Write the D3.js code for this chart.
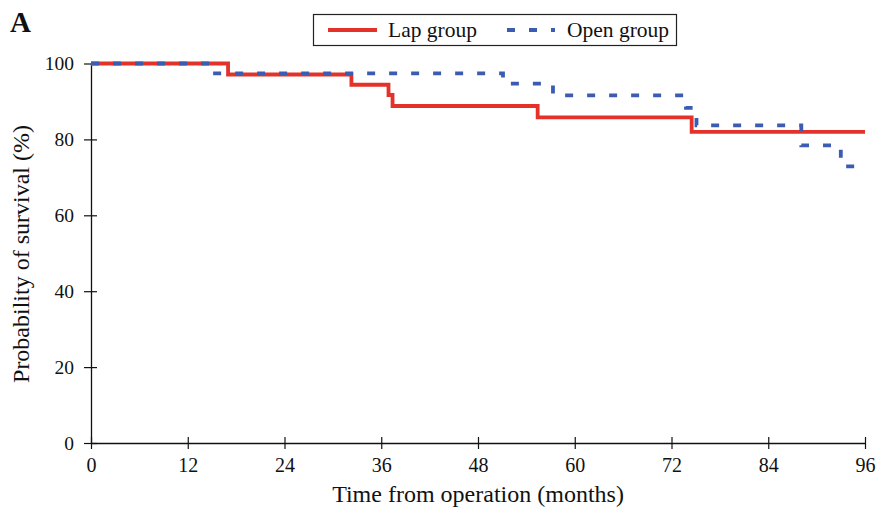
<!DOCTYPE html>
<html>
<head>
<meta charset="utf-8">
<script src="https://cdn.jsdelivr.net/npm/d3@7"></script>
<style>
  html, body { margin: 0; padding: 0; background: #fff; }
  svg { display: block; }
  text { font-family: "Liberation Serif", "Times New Roman", serif; fill: #111; }
</style>
</head>
<body>
<svg id="chart" width="885" height="513"></svg>
<script>
// ---- data ----
const lapTimes = [0, 17.0, 32.3, 36.9, 37.4, 55.4, 74.5, 96];
const lapSurv  = [100, 97.1, 94.4, 91.7, 88.8, 85.8, 82.0, 82.0];
const openTimes = [0, 15.0, 51.1, 57.3, 73.8, 75.1, 88.1, 93.0, 96];
const openSurv  = [100, 97.4, 94.7, 91.6, 88.3, 83.7, 78.4, 72.9, 72.9];
const xTicks = [0, 12, 24, 36, 48, 60, 72, 84, 96];
const yTicks = [0, 20, 40, 60, 80, 100];
const seriesNames = ["Lap group", "Open group"];

// ---- layout ----
const svg = d3.select("#chart");
const mLeft = 91, mRight = 865, mTop = 63.5, mBottom = 443;
const x = d3.scaleLinear().domain([0, 96]).range([mLeft, mRight]);
const y = d3.scaleLinear().domain([0, 100]).range([mBottom, mTop]);

const red = "#e2322a", blue = "#3b5cb0";

// axes
const xAxis = svg.append("g").attr("transform", `translate(0,${mBottom})`)
  .call(d3.axisBottom(x).tickValues(xTicks).tickSize(0).tickPadding(15));
xAxis.select(".domain").attr("stroke", "#111").attr("stroke-width", 1.3);
xAxis.selectAll(".tick").append("line").attr("y1", -6).attr("y2", 6).attr("stroke", "#111").attr("stroke-width", 1.2);
xAxis.selectAll(".tick text").attr("font-size", 20).attr("font-family", "Liberation Serif").attr("fill", "#111");

const yAxis = svg.append("g").attr("transform", `translate(${mLeft},0)`)
  .call(d3.axisLeft(y).tickValues(yTicks).tickSize(0).tickPadding(17));
yAxis.select(".domain").attr("stroke", "#111").attr("stroke-width", 1.3);
yAxis.selectAll(".tick").append("line").attr("x1", -7).attr("x2", 6).attr("stroke", "#111").attr("stroke-width", 1.2);
yAxis.selectAll(".tick text").attr("font-size", 19.5).attr("font-family", "Liberation Serif").attr("fill", "#111");

// curves
const line = d3.line().x(d => x(d[0])).y(d => y(d[1])).curve(d3.curveStepAfter);
const lapData = lapTimes.map((t, i) => [t, lapSurv[i]]);
const openData = openTimes.map((t, i) => [t, openSurv[i]]);

svg.append("path").datum(lapData).attr("d", line)
  .attr("fill", "none").attr("stroke", red).attr("stroke-width", 3.8);
svg.append("path").datum(openData).attr("d", line)
  .attr("fill", "none").attr("stroke", blue).attr("stroke-width", 3.8)
  .attr("stroke-dasharray", "8,14");

// axis titles
svg.append("text").attr("x", (mLeft + mRight) / 2).attr("y", 502)
  .attr("text-anchor", "middle").attr("font-size", 24).text("Time from operation (months)");
svg.append("text").attr("transform", `translate(29,254) rotate(-90)`)
  .attr("text-anchor", "middle").attr("font-size", 24).text("Probability of survival (%)");

// panel label
svg.append("text").attr("x", 10).attr("y", 32).attr("font-size", 29).attr("font-weight", "bold").text("A");

// legend
const lg = svg.append("g");
lg.append("rect").attr("x", 313.5).attr("y", 14.5).attr("width", 363).attr("height", 31)
  .attr("fill", "#fff").attr("stroke", "#222").attr("stroke-width", 1.2);
lg.append("line").attr("x1", 328).attr("x2", 377).attr("y1", 30).attr("y2", 30)
  .attr("stroke", red).attr("stroke-width", 3.8);
lg.append("text").attr("x", 388).attr("y", 37).attr("font-size", 21.5).text(seriesNames[0]);
lg.append("line").attr("x1", 507).attr("x2", 555).attr("y1", 30).attr("y2", 30)
  .attr("stroke", blue).attr("stroke-width", 3.8).attr("stroke-dasharray", "8,14");
lg.append("text").attr("x", 567).attr("y", 37).attr("font-size", 21.5).text(seriesNames[1]);
</script>
</body>
</html>
